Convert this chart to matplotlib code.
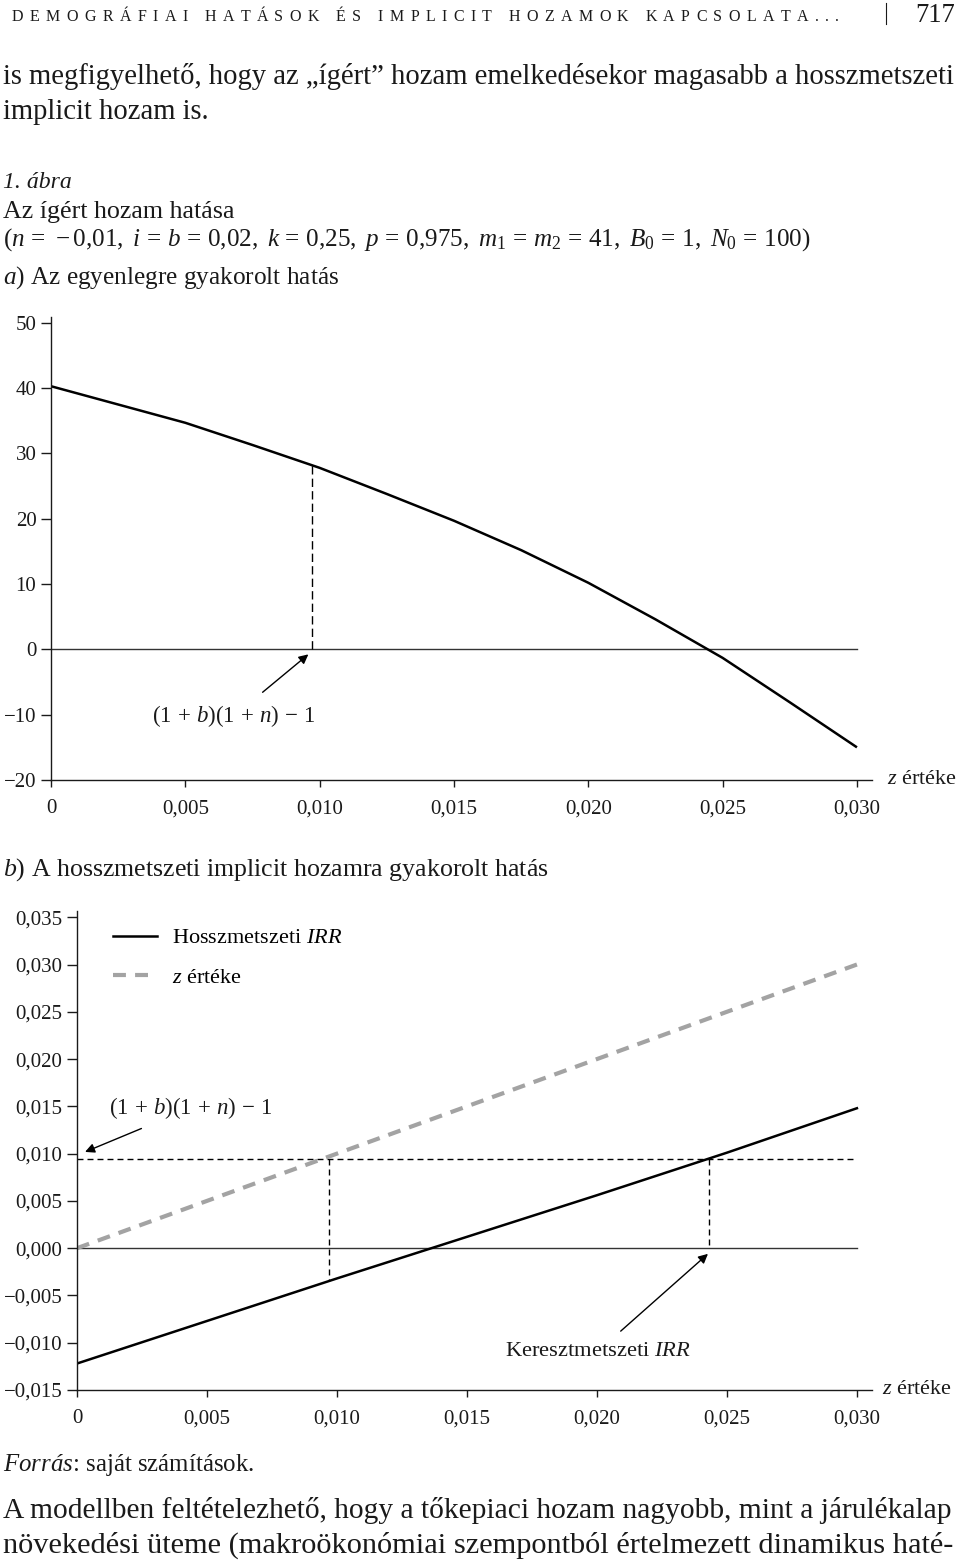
import matplotlib
matplotlib.use("Agg")
import matplotlib.pyplot as plt
from matplotlib.lines import Line2D

W, H = 960, 1566

# chart a) - effect on the balance
z_a = [0, 0.0025, 0.005, 0.0075, 0.010, 0.0125, 0.015, 0.0175, 0.020, 0.0225, 0.025, 0.0275, 0.030]
balance = [40.3, 37.5, 34.7, 31.3, 27.8, 23.8, 19.7, 15.2, 10.2, 4.6, -1.3, -8.1, -15.0]
yticks_a = [-20, -10, 0, 10, 20, 30, 40, 50]
ylabels_a = ["−20", "−10", "0", "10", "20", "30", "40", "50"]

# chart b) - longitudinal IRR vs z
z_b = [0, 0.005, 0.010, 0.015, 0.020, 0.025, 0.030]
irr_long = [-0.0122, -0.0077, -0.0032, 0.0012, 0.0056, 0.0101, 0.0148]
z_line = [0, 0.005, 0.010, 0.015, 0.020, 0.025, 0.030]
yticks_b = [-0.015, -0.010, -0.005, 0.0, 0.005, 0.010, 0.015, 0.020, 0.025, 0.030, 0.035]
ylabels_b = ["−0,015", "−0,010", "−0,005", "0,000", "0,005", "0,010",
             "0,015", "0,020", "0,025", "0,030", "0,035"]

xticks = [0, 0.005, 0.010, 0.015, 0.020, 0.025, 0.030]
xlabels = ["0", "0,005", "0,010", "0,015", "0,020", "0,025", "0,030"]

bn_rate = 0.0097      # (1+b)(1+n)-1 on the x axis
bn_level_a = 28.2     # balance at that rate
bn_level_b = 0.0094   # horizontal reference in b)
irr_at_bn = -0.0035
cross_irr = 0.0243    # cross-sectional IRR

plt.rcParams['font.family'] = 'Liberation Serif'
plt.rcParams['mathtext.fontset'] = 'custom'
plt.rcParams['mathtext.rm'] = 'Liberation Serif'
plt.rcParams['mathtext.it'] = 'Liberation Serif:italic'
plt.rcParams['mathtext.bf'] = 'Liberation Serif:bold'

INK = '#1a1a1a'
fig = plt.figure(figsize=(9.6, 15.66), dpi=100)
r = fig.canvas.get_renderer()


def fit(x0, x1, y, s, size=14, **kw):
    t = fig.text(x0 / W, 1 - y / H, s, fontsize=size, va='center', ha='left', color=INK, **kw)
    w = t.get_window_extent(r).width
    t.set_fontsize(size * (x1 - x0) / w)
    return t


def tracked(s, x0, x1, y, size):
    ts, ws = [], []
    for c in s:
        t = fig.text(0, 1 - y / H, c, fontsize=size, va='center', ha='left', color=INK)
        w = t.get_window_extent(r).width if c != ' ' else size * 0.25 * 100 / 72
        ts.append(t)
        ws.append(w)
    extra = (x1 - x0 - sum(ws)) / (len(s) - 1)
    x = x0
    for t, w in zip(ts, ws):
        t.set_x(x / W)
        x += w + extra


# page text
tracked("DEMOGRÁFIAI HATÁSOK ÉS IMPLICIT HOZAMOK KAPCSOLATA...", 12, 839, 17, 11.5)
fig.add_artist(Line2D([886 / W, 886 / W], [1 - 3 / H, 1 - 24 / H], color=INK, lw=0.8))
fit(915, 955, 16, "717", 16)
t1 = fit(3, 955, 77, "is megfigyelhető, hogy az „ígért” hozam emelkedésekor magasabb a hosszmetszeti", 20)
fig.text(3 / W, 1 - 112 / H, "implicit hozam is.", fontsize=t1.get_fontsize(), va='center', color=INK)
fit(3, 72, 182, "1. ábra", 16, style='italic')
fit(3, 235, 212, "Az ígért hozam hatása", 16)
fit(3, 812, 240, r"$(n\,=\,-0{,}01,\ i\,=\,b\,=\,0{,}02,\ k\,=\,0{,}25,\ p\,=\,0{,}975,\ m_1\,=\,m_2\,=\,41,\ B_0\,=\,1,\ N_0\,=\,100)$", 16)
fit(3, 340, 278, r"$\mathit{a)}$ Az egyenlegre gyakorolt hatás", 16)
fit(3, 549, 870, r"$\mathit{b)}$ A hosszmetszeti implicit hozamra gyakorolt hatás", 16)
fit(3, 255, 1465, r"$\mathit{Forrás}$: saját számítások.", 16)
fit(3, 955, 1510, "A modellben feltételezhető, hogy a tőkepiaci hozam nagyobb, mint a járulékalap", 20)
fit(3, 955, 1545, "növekedési üteme (makroökonómiai szempontból értelmezett dinamikus haté-", 20)


def style_axes(ax):
    for s in ['top', 'right']:
        ax.spines[s].set_visible(False)
    for s in ['left', 'bottom']:
        ax.spines[s].set_linewidth(1.0)
        ax.spines[s].set_color(INK)
    ax.tick_params(axis='y', direction='out', length=7.5, width=1.0, pad=3, labelsize=15, colors=INK)
    ax.tick_params(axis='x', direction='out', length=5, width=1.0, pad=9, labelsize=15, colors=INK)
    ax.set_xticks(xticks)
    ax.set_xticklabels(xlabels)


# chart a
ax = fig.add_axes([51 / W, 1 - 780 / H, (872 - 51) / W, (780 - 317) / H])
ax.set_xlim(0, 0.03056)
ax.set_ylim(-20, 50.9)
style_axes(ax)
ax.set_yticks(yticks_a)
ax.set_yticklabels(ylabels_a)
ax.plot([0, 0.030], [0, 0], color='#333333', lw=1.0)
ax.plot(z_a, balance, color='black', lw=1.8, solid_capstyle='butt')
ax.plot([bn_rate, bn_rate], [0, bn_level_a], color='black', lw=1.0, dashes=(6, 3))
ax.annotate(r"$(1\,+\,b)(1\,+\,n)\,-\,1$", xy=(0.00958, -0.76), xytext=(0.00681, -10.2),
            ha='center', va='center', fontsize=16.5, color=INK,
            arrowprops=dict(arrowstyle='-|>', color='black', lw=1.0, mutation_scale=14,
                            shrinkA=9, shrinkB=0))
ax.text(1.018, 0, "$z$ értéke", transform=ax.transAxes, ha='left', va='center',
        fontsize=16, color=INK)

# chart b
bx = fig.add_axes([77 / W, 1 - 1390 / H, (872 - 77) / W, (1390 - 911) / H])
bx.set_xlim(0, 0.03058)
bx.set_ylim(-0.015, 0.03566)
style_axes(bx)
bx.set_yticks(yticks_b)
bx.set_yticklabels(ylabels_b)
bx.plot([0, 0.030], [0, 0], color='#333333', lw=1.0)
bx.plot([0, 0.030], [bn_level_b, bn_level_b], color='black', lw=1.0, dashes=(4.3, 2.9))
bx.plot([bn_rate, bn_rate], [bn_level_b, irr_at_bn], color='black', lw=1.0, dashes=(4.3, 2.9))
bx.plot([cross_irr, cross_irr], [bn_level_b, 0], color='black', lw=1.0, dashes=(4.3, 2.9))
l_irr, = bx.plot(z_b, irr_long, color='black', lw=1.8, label='Hosszmetszeti $IRR$')
l_z, = bx.plot(z_line, z_line, color='#a3a3a3', lw=3.0, dashes=(3.1, 2.2), label='$z$ értéke')
bx.legend(handles=[l_irr, l_z], loc='upper left', bbox_to_anchor=(0.045, 0.965), frameon=False,
          fontsize=16, borderpad=0, borderaxespad=0, handlelength=2.0, handletextpad=0.65,
          labelspacing=0.85)
bx.annotate(r"$(1\,+\,b)(1\,+\,n)\,-\,1$", xy=(0.00031, 0.01018), xytext=(0.00438, 0.01483),
            ha='center', va='center', fontsize=16.5, color=INK,
            arrowprops=dict(arrowstyle='-|>', color='black', lw=1.0, mutation_scale=14,
                            shrinkA=9, shrinkB=0))
bx.annotate("Keresztmetszeti $IRR$", xy=(0.02427, -0.0006), xytext=(0.02002, -0.01095),
            ha='center', va='center', fontsize=16.2, color=INK,
            arrowprops=dict(arrowstyle='-|>', color='black', lw=1.0, mutation_scale=14,
                            shrinkA=9, shrinkB=0))
bx.text(1.0126, 0, "$z$ értéke", transform=bx.transAxes, ha='left', va='center',
        fontsize=16, color=INK)

fig.savefig('out.png', dpi=100)
